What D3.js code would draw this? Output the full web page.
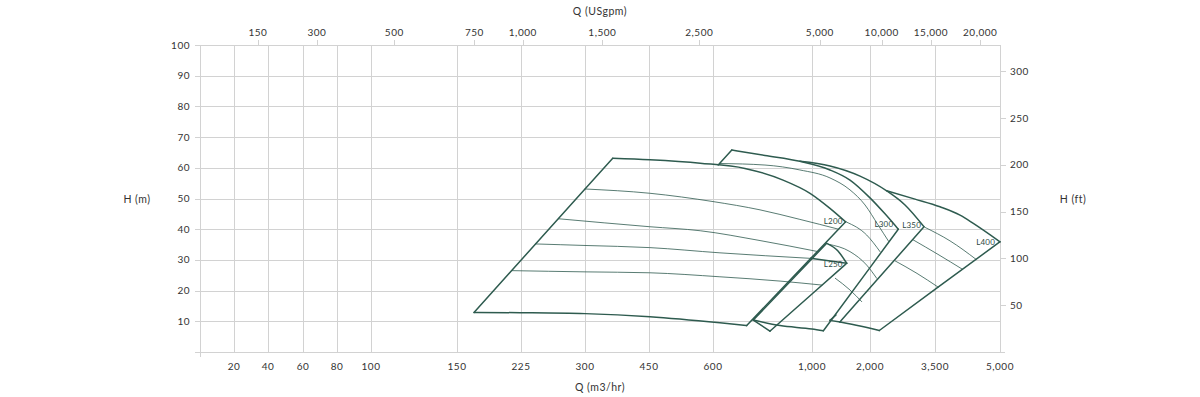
<!DOCTYPE html>
<html lang="en">
<head>
<meta charset="utf-8">
<title>Pump curves</title>
<style>
    body { margin: 0; background: #fff; }
    text { font-family: Lato, "Open Sans", sans-serif; fill: #333; letter-spacing: 0.5px; }
    .grid line { stroke: #d2d2d2; stroke-width: 1; shape-rendering: crispEdges; }
</style>
</head>
<body>
<script src="https://cdn.jsdelivr.net/npm/d3@7/dist/d3.min.js"></script>
<script>
// axis ticks
var qTicks = [0, 20, 40, 60, 80, 100, 150, 225, 300, 450, 600, 1000, 2000, 3500, 5000];   // m3/hr
var gpmTicks = [150, 300, 500, 750, 1000, 1500, 2500, 5000, 10000, 15000, 20000];          // USgpm
var hTicks = [0, 10, 20, 30, 40, 50, 60, 70, 80, 90, 100];                                 // m
var ftTicks = [50, 100, 150, 200, 250, 300];                                               // ft

// curves, points are [Q m3/hr, H m]
var l200Left = [[170, 12.9], [300, 53.1], [365, 63.1]];
var l200Top = [[365, 63.1], [452, 62.6], [570, 61.5], [729, 59.8], [883, 56.0], [992, 51.7], [1310, 46.8], [1580, 42.4]];
var l200Right = [[736, 8.6], [1000, 30.9], [1580, 42.4]];
var l200Bottom = [[170, 12.9], [224, 12.8], [300, 12.5], [452, 11.5], [628, 9.5], [736, 8.6]];
var l200Trims = [
    [[300, 53.1], [452, 51.7], [600, 49.0], [790, 46.3], [951, 43.2], [1457, 40.0]],
    [[269, 43.4], [452, 40.8], [570, 39.5], [790, 36.3], [1103, 32.7]],
    [[242, 35.2], [300, 34.7], [452, 34.0], [628, 32.3], [994, 30.5]],
    [[214, 26.5], [300, 26.1], [452, 25.8], [628, 24.5], [871, 23.1], [1172, 21.8]]
];

var l250Left = [[763, 10.4], [1000, 30.4], [1253, 35.4]];
var l250Top = [[1253, 35.4], [1448, 32.9], [1598, 28.9]];
var l250Inner = [[994, 30.5], [1598, 28.9]];
var l250Right = [[830, 6.8], [1000, 18.9], [1598, 28.9]];
var l250Bottom = [[763, 10.4], [830, 6.8]];

var l300Left = [[621, 60.9], [676, 65.8]];
var l300Top = [[676, 65.8], [810, 64.0], [951, 62.1], [1310, 59.3], [1655, 56.0], [2000, 50.2], [2346, 45.0], [2653, 40.0]];
var l300Right = [[1195, 6.9], [2000, 27.5], [2653, 40.0]];
var l300Bottom = [[763, 10.4], [871, 8.6], [1000, 7.5], [1195, 6.9]];
var l300Trims = [
    [[628, 61.4], [810, 60.9], [951, 59.3], [1310, 56.7], [1655, 52.8], [1914, 47.9], [2185, 41.4], [2432, 36.0]],
    [[1597, 42.3], [1943, 38.1], [2231, 32.7]],
    [[1281, 35.1], [1655, 32.7], [1943, 28.3], [2155, 24.0]],
    [[1402, 24.0], [1655, 20.2], [1857, 16.4]]
];

var l350Left = [[1310, 10.3], [1414, 12.05]];
var l350Top = [[951, 62.1], [1310, 60.6], [1828, 57.3], [2385, 52.5], [2808, 47.9], [3246, 40.8]];
var l350Right = [[1483, 9.8], [2000, 20.9], [3246, 40.8]];
var l350Bottom = [[1310, 10.3], [1483, 9.8]];

var l400Top = [[2385, 52.5], [3039, 49.8], [3615, 47.3], [4077, 44.6], [4384, 41.9], [5000, 35.9]];
var l400Right = [[2215, 7.0], [3500, 20.4], [5000, 35.9]];
var l400Bottom = [[1483, 9.8], [1828, 8.5], [2215, 7.0]];
var l400Trims = [
    [[3269, 40.6], [3846, 36.2], [4446, 30.2]],
    [[2999, 36.5], [3569, 31.8], [4139, 26.9]],
    [[2577, 29.7], [3085, 25.6], [3576, 21.1]]
];

var pumpNames = ["L200", "L250", "L300", "L350", "L400"];
var pumpNoses = [l200Top[l200Top.length - 1], l250Top[l250Top.length - 1], l300Top[l300Top.length - 1],
                 l350Top[l350Top.length - 1], l400Top[l400Top.length - 1]];

var M3H_TO_GPM = 4.40287;
var M_TO_FT = 3.28084;

// layout
var width = 1200, height = 397;
var plotLeft = 200, plotRight = 1000, plotTop = 45, plotBottom = 352;
// the m3/hr axis is stretched differently per interval
var qPos = [0, 34, 68, 103, 137, 171, 257, 321, 385, 449, 513, 612, 670, 735, 800];

var svg = d3.select("body").append("svg")
    .attr("width", width)
    .attr("height", height);

var x = d3.scaleLinear()
    .domain(qTicks)
    .range(qPos.map(function (p) { return plotLeft + p; }));
var y = d3.scaleLinear().domain([0, 100]).range([plotBottom, plotTop]);
var yFt = d3.scaleLinear().domain([0, 100 * M_TO_FT]).range([plotBottom, plotTop]);

// grid
var grid = svg.append("g").attr("class", "grid");
grid.selectAll(".v").data(qTicks).enter().append("line")
    .attr("x1", function (d) { return Math.round(x(d)) + 0.5; })
    .attr("x2", function (d) { return Math.round(x(d)) + 0.5; })
    .attr("y1", plotTop)
    .attr("y2", function (d) { return d === 0 ? plotBottom + 5 : plotBottom; });
grid.selectAll(".h").data(hTicks).enter().append("line")
    .attr("x1", plotLeft - 5)
    .attr("x2", function (d) { return d === 0 ? plotRight + 5 : plotRight; })
    .attr("y1", function (d) { return Math.round(y(d)) + 0.5; })
    .attr("y2", function (d) { return Math.round(y(d)) + 0.5; });
// right and top axis ticks
grid.selectAll(".ft").data(ftTicks).enter().append("line")
    .attr("x1", plotRight).attr("x2", plotRight + 6)
    .attr("y1", function (d) { return Math.round(yFt(d)) + 0.5; })
    .attr("y2", function (d) { return Math.round(yFt(d)) + 0.5; });
grid.selectAll(".gpm").data(gpmTicks).enter().append("line")
    .attr("x1", function (d) { return Math.round(x(d / M3H_TO_GPM)) + 0.5; })
    .attr("x2", function (d) { return Math.round(x(d / M3H_TO_GPM)) + 0.5; })
    .attr("y1", plotTop - 5).attr("y2", plotTop);

// tick labels
var fmt = d3.format(",");
svg.selectAll(".hl").data(hTicks.filter(function (d) { return d > 0; })).enter().append("text")
    .attr("x", plotLeft - 10)
    .attr("y", function (d) { return y(d); })
    .attr("dy", "0.35em")
    .attr("text-anchor", "end")
    .attr("font-size", 10)
    .text(function (d) { return d; });
svg.selectAll(".ql").data(qTicks.filter(function (d) { return d > 0; })).enter().append("text")
    .attr("x", function (d) { return x(d); })
    .attr("y", 366)
    .attr("dy", "0.35em")
    .attr("text-anchor", "middle")
    .attr("font-size", 10)
    .text(function (d) { return fmt(d); });
svg.selectAll(".fl").data(ftTicks).enter().append("text")
    .attr("x", plotRight + 10)
    .attr("y", function (d) { return yFt(d); })
    .attr("dy", "0.35em")
    .attr("font-size", 10)
    .text(function (d) { return d; });
svg.selectAll(".gl").data(gpmTicks).enter().append("text")
    .attr("x", function (d) { return x(d / M3H_TO_GPM); })
    .attr("y", 32)
    .attr("dy", "0.35em")
    .attr("text-anchor", "middle")
    .attr("font-size", 10)
    .text(function (d) { return fmt(d); });

// axis titles
svg.append("text").attr("x", 600).attr("y", 11).attr("dy", "0.35em")
    .attr("text-anchor", "middle").attr("font-size", 10.5).text("Q (USgpm)");
svg.append("text").attr("x", 600).attr("y", 387).attr("dy", "0.35em")
    .attr("text-anchor", "middle").attr("font-size", 10.5).text("Q (m3/hr)");
svg.append("text").attr("x", 137).attr("y", 199).attr("dy", "0.35em")
    .attr("text-anchor", "middle").attr("font-size", 10.5).text("H (m)");
svg.append("text").attr("x", 1073).attr("y", 199).attr("dy", "0.35em")
    .attr("text-anchor", "middle").attr("font-size", 10.5).text("H (ft)");

// curves
var line = d3.line()
    .x(function (d) { return x(d[0]); })
    .y(function (d) { return y(d[1]); })
    .curve(d3.curveMonotoneX);

var curves = svg.append("g")
    .attr("fill", "none")
    .attr("stroke", "#2e5b4f")
    .attr("stroke-linecap", "round")
    .attr("stroke-linejoin", "round");

function draw(pts, w) {
    curves.append("path").datum(pts).attr("d", line).attr("stroke-width", w);
}

[l200Trims, l300Trims, l400Trims].forEach(function (set) {
    set.forEach(function (t) { draw(t, 0.8); });
});

[l200Left, l200Top, l200Right, l200Bottom,
 l250Left, l250Top, l250Inner, l250Right, l250Bottom,
 l300Left, l300Top, l300Right, l300Bottom,
 l350Left, l350Top, l350Right, l350Bottom,
 l400Top, l400Right, l400Bottom].forEach(function (c) { draw(c, 1.5); });

// pump names next to the noses
var nameShift = [[-3, -1], [-4, 1], [-5, -5], [-3, -2], [-5, 0]];
svg.selectAll(".pn").data(pumpNames).enter().append("text")
    .attr("x", function (d, i) { return x(pumpNoses[i][0]) + nameShift[i][0]; })
    .attr("y", function (d, i) { return y(pumpNoses[i][1]) + nameShift[i][1]; })
    .attr("dy", "0.35em")
    .attr("text-anchor", "end")
    .attr("font-size", 8)
    .style("letter-spacing", "0.2px")
    .style("fill", "#2e4a43")
    .text(function (d) { return d; });
</script>
</body>
</html>
